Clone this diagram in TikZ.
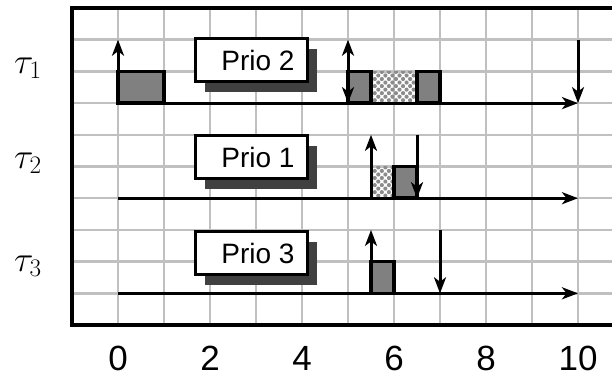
\RequirePackage{fix-cm}
\documentclass[tikz,border=0pt]{standalone}
\usepackage{fontspec}
\setmainfont{Liberation Sans}
\usetikzlibrary{arrows.meta,shadows,patterns.meta}
\definecolor{gridgray}{HTML}{C0C0C0}
\definecolor{boxgray}{HTML}{808080}
\definecolor{shadowgray}{HTML}{404040}
\definecolor{hatchgray}{HTML}{8C8C8C}
\begin{document}
\begin{tikzpicture}[x=1pt,y=-1pt,
  gridline/.style={gridgray, line width=2.5pt},
  frameline/.style={line width=3.5pt, line join=miter},
  axisarrow/.style={line width=3.2pt, -{Stealth[length=16pt,width=12pt,inset=4.5pt]}},
  evtip/.tip={Stealth[length=16pt,width=12pt,inset=4.5pt]},
  eventarrow/.style={line width=3pt},
  execbox/.style={draw, line width=3.5pt, fill=boxgray},
  blockbox/.style={pattern={Dots[distance=5pt,radius=2.1pt,angle=45]}, pattern color=hatchgray},
  priobox/.style={draw, line width=3.5pt, fill=white, minimum width=112pt, minimum height=43pt,
    inner sep=0pt, font=\fontsize{28}{30}\selectfont,
    drop shadow={shadow xshift=9pt, shadow yshift=-10pt, fill=shadowgray, opacity=1}},
  tasklabel/.style={anchor=base west, inner sep=0pt, font=\fontsize{36}{40}\selectfont},
  ticklabel/.style={anchor=base, inner sep=0pt, font=\fontsize{35}{40}\selectfont}]
\useasboundingbox (0,0) rectangle (612,376);
% grid
\begin{scope}
  \clip (72,0) rectangle (612,376);
  \foreach \k in {0,...,11} \draw[gridline] ({72+46*\k},8) -- ({72+46*\k},325);
  \foreach \j in {1,...,9} \draw[gridline] (72,{8+31.7*\j}) -- (612,{8+31.7*\j});
\end{scope}
% frame
\draw[frameline] (612,8) -- (72,8) -- (72,325) -- (612,325);
% priority boxes
\node[priobox] (p2) at (251.5,60) {\hspace*{13pt}Prio 2};
\node[priobox] (p1) at (251.5,157) {\hspace*{13pt}Prio 1};
\node[priobox] (p3) at (251.5,253) {\hspace*{13pt}Prio 3};
% task labels
\node[tasklabel] (l1) at (14,73) {$\tau_1$};
\node[tasklabel] (l2) at (14,168) {$\tau_2$};
\node[tasklabel] (l3) at (14,271) {$\tau_3$};
% tick labels
\foreach \v [count=\i from 0] in {0,2,4,6,8,10}
  \node[ticklabel] (tick\i) at ({118+92*\i},370) {\v};
% coordinates
\coordinate (a1s) at (118,103.1); \coordinate (a1e) at (578,103.1);
\coordinate (a2s) at (118,198.2); \coordinate (a2e) at (578,198.2);
\coordinate (a3s) at (118,293.3); \coordinate (a3e) at (578,293.3);
% task 1
\draw[execbox] (118,71.4) rectangle (164,103.1);
\fill[blockbox] (371,71.4) rectangle (417,103.1);
\draw[execbox] (348,71.4) rectangle (371,103.1);
\draw[execbox] (417,71.4) rectangle (440,103.1);
\draw[axisarrow] (a1s) -- (a1e);
\coordinate (r1a) at (118,39.7);
\coordinate (r1b) at (348,39.7); \coordinate (r1bb) at (348,103.1);
\coordinate (d1) at (578,39.7);
\draw[eventarrow,-evtip] (a1s) -- (r1a);
\draw[eventarrow,evtip-evtip] (r1bb) -- (r1b);
\draw[eventarrow,-evtip] (d1) -- (a1e);
% task 2
\fill[blockbox] (371,166.5) rectangle (394,198.2);
\draw[execbox] (394,166.5) rectangle (417,198.2);
\draw[axisarrow] (a2s) -- (a2e);
\coordinate (r2) at (371,134.8); \coordinate (r2b) at (371,198.2);
\coordinate (d2) at (417,134.8); \coordinate (d2b) at (417,198.2);
\draw[eventarrow,-evtip] (r2b) -- (r2);
\draw[eventarrow,-evtip] (d2) -- (d2b);
% task 3
\draw[execbox] (371,261.6) rectangle (394,293.3);
\draw[axisarrow] (a3s) -- (a3e);
\coordinate (r3) at (371,229.9); \coordinate (r3b) at (371,293.3);
\coordinate (d3) at (440,229.9); \coordinate (d3b) at (440,293.3);
\draw[eventarrow,-evtip] (r3b) -- (r3);
\draw[eventarrow,-evtip] (d3) -- (d3b);
\end{tikzpicture}
\end{document}
